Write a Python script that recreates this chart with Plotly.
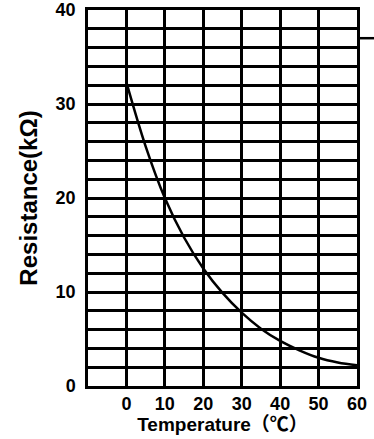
import plotly.graph_objects as go

# values
temperature = [0, 5, 10, 15, 20, 25, 30, 35, 40, 45, 50, 55, 60]
resistance = [32.3, 25.5, 20.0, 15.8, 12.5, 9.9, 7.8, 6.1, 4.8, 3.8, 3.0, 2.5, 2.2]

x_ticks = [0, 10, 20, 30, 40, 50, 60]
y_ticks = [0, 10, 20, 30, 40]

font_family = "Liberation Sans, Arial, Noto Sans CJK JP, sans-serif"

fig = go.Figure()

fig.add_trace(
    go.Scatter(
        x=temperature,
        y=resistance,
        mode="lines",
        line=dict(color="black", width=2.5, shape="spline", smoothing=1.0),
        hoverinfo="skip",
    )
)

fig.update_layout(
    width=374,
    height=439,
    margin=dict(l=88, r=17, t=10, b=53),
    plot_bgcolor="white",
    paper_bgcolor="white",
    showlegend=False,
    font=dict(family=font_family, color="black"),
    xaxis=dict(
        range=[-10, 60],
        tickvals=x_ticks,
        ticktext=[f"<b>{v}</b>" for v in x_ticks],
        showgrid=True,
        gridcolor="black",
        gridwidth=2.5,
        showline=True,
        linecolor="black",
        linewidth=2.5,
        mirror=True,
        zeroline=False,
        automargin=False,
        tickfont=dict(size=18, family=font_family),
        title=dict(
            text="<b>Temperature（℃）</b>",
            font=dict(size=19, family=font_family),
            standoff=0,
        ),
    ),
    yaxis=dict(
        range=[0, 40],
        tickvals=y_ticks,
        ticktext=[f"<b>{v}</b>" for v in y_ticks],
        showgrid=True,
        gridcolor="black",
        gridwidth=2.5,
        minor=dict(dtick=2, showgrid=True, gridcolor="black", gridwidth=2.5),
        showline=True,
        linecolor="black",
        linewidth=2.5,
        mirror=True,
        zeroline=False,
        automargin=False,
        ticklabelstandoff=6,
        tickfont=dict(size=18, family=font_family),
        title=dict(
            text="<b>Resistance(kΩ)</b>",
            font=dict(size=24, family=font_family),
            standoff=12,
        ),
    ),
)

# short leader line sticking out of the top-right corner
fig.add_shape(
    type="line",
    xref="paper",
    x0=1,
    x1=1.07,
    yref="y",
    y0=37,
    y1=37,
    line=dict(color="black", width=2.5),
)

# page margin off so the figure sits at the window's top-left corner
fig.write_html(
    "out.html",
    config={"displayModeBar": False},
    post_script="document.body.style.margin='0';document.body.style.padding='0';",
)
